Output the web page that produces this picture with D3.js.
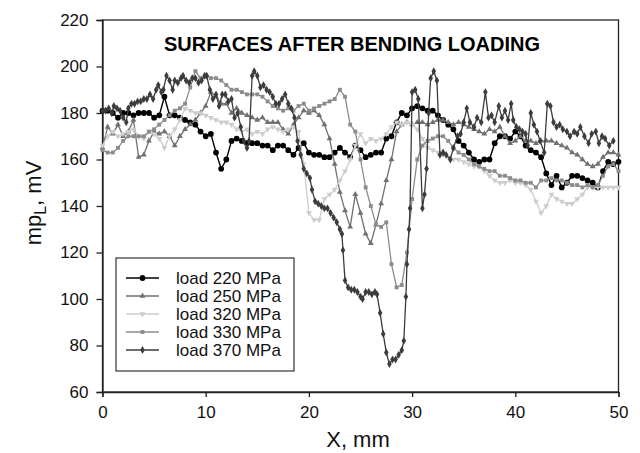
<!DOCTYPE html>
<html><head><meta charset="utf-8">
<script src="https://cdn.jsdelivr.net/npm/d3@7"></script>
<style>
body{margin:0;background:#fff;}
text{font-family:"Liberation Sans",Arial,sans-serif;}
</style></head>
<body><svg id="c" width="640" height="453"></svg>
<script>
const seriesNames = ["load 220 MPa","load 250 MPa","load 320 MPa","load 330 MPa","load 370 MPa"];
const xTicks = [0,10,20,30,40,50];
const yTicks = [60,80,100,120,140,160,180,200,220];
const xHalf = [0,0.5,1,1.5,2,2.5,3,3.5,4,4.5,5,5.5,6,6.5,7,7.5,8,8.5,9,9.5,10,10.5,11,11.5,12,12.5,13,13.5,14,14.5,15,15.5,16,16.5,17,17.5,18,18.5,19,19.5,20,20.5,21,21.5,22,22.5,23,23.5,24,24.5,25,25.5,26,26.5,27,27.5,28,28.5,29,29.5,30,30.5,31,31.5,32,32.5,33,33.5,34,34.5,35,35.5,36,36.5,37,37.5,38,38.5,39,39.5,40,40.5,41,41.5,42,42.5,43,43.5,44,44.5,45,45.5,46,46.5,47,47.5,48,48.5,49,49.5,50];
const load220 = [181,181,180,178,180,180,179,180,180,180,178,179,187,179,179,178,177,176,175,172,170,171,163,156,160,168,169,168,167,167,167,166,166,164,166,166,164,162,165,167,163,162,162,161,161,163,165,163,161,166,164,161,162,163,163,169,170,176,180,179,182,183,182,181,181,179,177,175,173,168,166,163,160,159,160,160,167,170,170,169,172,170,166,164,163,161,154,149,153,148,150,153,153,152,151,150,148,155,159,158,159];
const load250 = [165,174,171,175,170,172,177,161,162,168,172,171,172,170,166,170,173,175,177,180,183,189,187,184,184,180,182,180,179,178,177,178,176,176,176,173,171,175,178,181,180,181,179,175,169,158,146,138,131,145,137,128,124,132,141,151,160,172,175,176,175,176,176,175,176,177,177,176,175,176,175,174,173,172,171,173,172,174,170,167,168,170,168,168,167,168,168,168,167,166,165,163,162,160,158,157,158,161,163,163,162];
const load320 = [166,170,172,170,171,172,173,170,169,172,171,169,165,170,173,177,182,181,180,180,179,178,177,176,176,175,173,172,173,171,172,171,173,174,173,172,173,174,172,158,137,134,134,143,145,147,151,155,160,166,171,167,169,168,169,171,174,176,175,176,175,173,169,165,164,163,162,161,160,160,159,158,157,157,155,153,151,150,150,151,150,150,149,147,142,137,140,145,143,142,141,141,143,145,148,148,148,148,148,148,148];
const load330 = [164,163,163,165,168,170,170,170,170,172,173,175,177,179,181,182,184,191,198,195,196,195,195,194,192,190,190,189,188,188,188,187,185,183,182,181,182,181,183,184,181,182,183,184,185,186,190,187,175,172,160,148,140,132,131,133,115,105,106,120,143,160,166,168,169,170,170,168,165,163,162,160,158,157,156,155,155,153,153,152,151,151,150,150,148,151,151,152,151,151,150,149,149,148,149,148,149,153,157,158,155];
const x370 = [0,0.3,0.6,0.9,1.1,1.4,1.7,2,2.3,2.5,2.8,3.1,3.4,3.7,4,4.3,4.6,4.9,5.2,5.4,5.7,5.9,6.2,6.5,6.8,7,7.3,7.6,7.8,8.1,8.4,8.7,9,9.3,9.6,9.9,10.1,10.4,10.7,11,11.3,11.6,11.9,12.2,12.5,12.8,13.1,13.4,13.7,14,14.2,14.5,14.7,15,15.3,15.6,15.9,16.2,16.5,16.8,17.1,17.4,17.7,18,18.3,18.6,18.9,19.2,19.5,19.8,20.1,20.3,20.6,20.9,21.2,21.5,21.8,22.1,22.4,22.7,23,23.2,23.3,23.5,23.8,24.1,24.4,24.7,25,25.2,25.5,25.8,26.1,26.4,26.6,26.9,27.2,27.5,27.8,28.1,28.4,28.7,29,29.2,29.4,29.5,29.7,29.8,30,30.3,30.6,31,31.2,31.4,31.6,31.8,32.1,32.4,32.7,33,33.3,33.7,34,34.4,34.7,35,35.3,35.6,36,36.3,36.7,37.1,37.4,37.7,38,38.4,38.7,39,39.3,39.6,39.8,40.1,40.4,40.7,41,41.2,41.5,41.8,42.1,42.4,42.8,43.1,43.4,43.7,44,44.3,44.6,45,45.3,45.7,46,46.3,46.7,47.1,47.4,47.8,48.1,48.4,48.7,49.1,49.5];
const load370 = [181,181,182,180,183,182,181,178,176,182,184,184,185,185,186,186,188,186,190,192,189,190,196,194,190,194,193,195,196,194,193,195,195,193,194,196,196,190,186,188,183,188,188,185,186,178,180,174,168,165,168,196,198,196,191,192,190,189,187,184,184,186,188,184,182,178,168,162,156,154,152,147,142,141,140,139,139,137,135,133,130,128,121,108,105,104,104,103,101,100,103,103,102,103,102,94,85,77,72,74,74,76,78,82,101,115,130,139,189,190,186,139,145,156,180,195,198,194,162,163,162,160,165,170,171,176,182,176,174,178,176,189,178,179,176,183,178,181,177,184,177,174,173,172,171,166,180,175,172,168,163,184,183,176,174,175,173,172,170,172,171,174,170,167,171,172,167,170,169,166,168];

const series = [
  {name:seriesNames[0], xs:xHalf, ys:load220, color:"#000000", sym:d3.symbolCircle, size:26, lw:1.4},
  {name:seriesNames[1], xs:xHalf, ys:load250, color:"#707070", sym:d3.symbolTriangle, size:15, lw:1.3},
  {name:seriesNames[2], xs:xHalf, ys:load320, color:"#cdcdcd", sym:"tridown", size:15, lw:1.3},
  {name:seriesNames[3], xs:xHalf, ys:load330, color:"#8c8c8c", sym:d3.symbolSquare, size:15, lw:1.3},
  {name:seriesNames[4], xs:x370, ys:load370, color:"#3c3c3c", sym:d3.symbolDiamond, size:18, lw:1.3}
];

const svg = d3.select("#c");
const L=102.5, R=618.5, T=20, B=392;
const x = d3.scaleLinear().domain([0,50]).range([L,R]);
const y = d3.scaleLinear().domain([60,220]).range([B,T]);

svg.append("rect").attr("x",L).attr("y",T).attr("width",R-L).attr("height",B-T)
  .attr("fill","none").attr("stroke","#222").attr("stroke-width",1.3);

const xa = svg.append("g").attr("transform",`translate(0,${B})`)
  .call(d3.axisBottom(x).tickValues(xTicks).tickSize(5).tickPadding(9));
const ya = svg.append("g").attr("transform",`translate(${L},0)`)
  .call(d3.axisLeft(y).tickValues(yTicks).tickSize(6).tickPadding(8));
[xa,ya].forEach(g=>{
  g.select(".domain").attr("stroke","#222").attr("stroke-width",1.3);
  g.selectAll(".tick line").attr("stroke","#222").attr("stroke-width",1.3);
  g.selectAll("text").attr("font-size",17).attr("fill","#111").attr("font-family","Liberation Sans, Arial, sans-serif");
});

function symPath(s, size){
  if(s==="tridown") return d3.symbol().type(d3.symbolTriangle).size(size)();
  return d3.symbol().type(s).size(size)();
}

const plot = svg.append("g");
series.forEach(s=>{
  const pts = s.xs.map((v,i)=>[v,s.ys[i]]);
  plot.append("path").datum(pts)
    .attr("fill","none").attr("stroke",s.color).attr("stroke-width",s.lw)
    .attr("d", d3.line().x(d=>x(d[0])).y(d=>y(d[1])));
  plot.selectAll(null).data(pts).enter().append("path")
    .attr("d", symPath(s.sym,s.size))
    .attr("transform", d=>`translate(${x(d[0])},${y(d[1])})` + (s.sym==="tridown"?" rotate(180)":""))
    .attr("fill",s.color);
});

svg.append("text").attr("x",352).attr("y",51).attr("text-anchor","middle")
  .attr("font-size",20).attr("font-weight","bold").attr("fill","#000")
  .text("SURFACES AFTER BENDING LOADING");

svg.append("text").attr("x",358).attr("y",447).attr("text-anchor","middle")
  .attr("font-size",22).attr("fill","#111").text("X, mm");
const yl = svg.append("text").attr("transform","translate(41,203) rotate(-90)")
  .attr("text-anchor","middle").attr("font-size",22).attr("fill","#111");
yl.append("tspan").text("mp");
yl.append("tspan").attr("font-size",16).attr("dy",5).text("L");
yl.append("tspan").attr("dy",-5).text(", mV");

const lg = svg.append("g");
lg.append("rect").attr("x",116).attr("y",258).attr("width",178).attr("height",113)
  .attr("fill","#fff").attr("stroke","#333").attr("stroke-width",1.2);
series.forEach((s,i)=>{
  const ly = 278 + i*18;
  lg.append("line").attr("x1",126).attr("x2",159).attr("y1",ly).attr("y2",ly)
    .attr("stroke",s.color).attr("stroke-width",s.lw);
  lg.append("path").attr("d",symPath(s.sym,s.size))
    .attr("transform",`translate(142.5,${ly})`+(s.sym==="tridown"?" rotate(180)":""))
    .attr("fill",s.color);
  lg.append("text").attr("x",176).attr("y",ly+6).attr("font-size",17).attr("fill","#111").text(s.name);
});
</script></body></html>
